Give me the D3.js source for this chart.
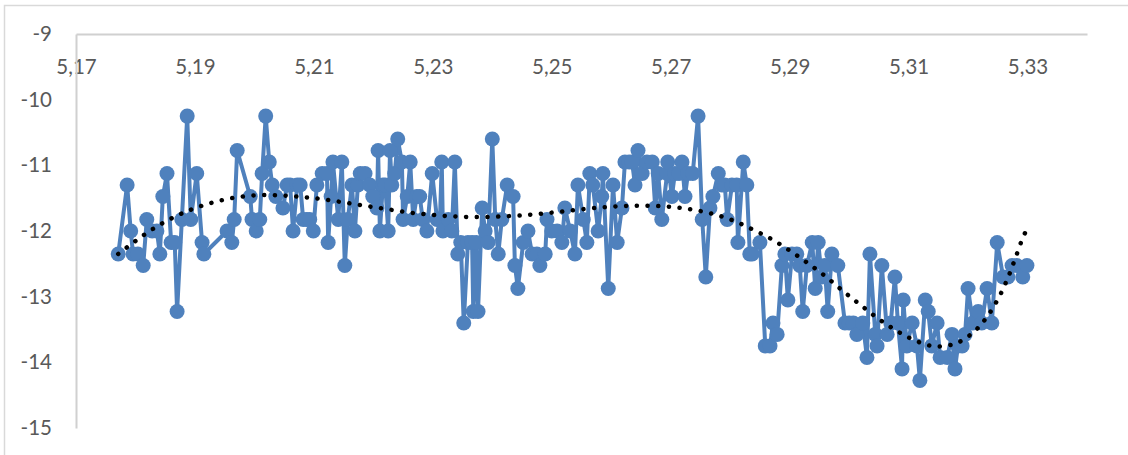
<!DOCTYPE html>
<html>
<head>
<meta charset="utf-8">
<script src="https://cdn.jsdelivr.net/npm/d3@7"></script>
<style>
  html, body { margin: 0; padding: 0; background: #fff; }
  svg { display: block; }
  .tick text { font-family: Lato, "Open Sans", sans-serif; font-size: 20.5px; fill: #595959; }
</style>
</head>
<body>
<svg id="chart" width="1128" height="455"></svg>
<script>
// ---- data ----
const xValues = [
  5.1771, 5.1786, 5.1792, 5.1796, 5.1804, 5.1813, 5.1819, 5.1828, 5.1836, 5.1841,
  5.1846, 5.1853, 5.1860, 5.1866, 5.1870, 5.1878, 5.1887, 5.1893, 5.1903, 5.1912,
  5.1915, 5.1954, 5.1962, 5.1966, 5.1971, 5.1993, 5.1996, 5.2003, 5.2009, 5.2013,
  5.2019, 5.2025, 5.2030, 5.2036, 5.2048, 5.2055, 5.2060, 5.2065, 5.2072, 5.2077,
  5.2082, 5.2088, 5.2093, 5.2099, 5.2105, 5.2114, 5.2122, 5.2124, 5.2129, 5.2132,
  5.2141, 5.2147, 5.2152, 5.2157, 5.2164, 5.2169, 5.2174, 5.2178, 5.2186, 5.2194,
  5.2199, 5.2206, 5.2208, 5.2211, 5.2216, 5.2220, 5.2225, 5.2228, 5.2231, 5.2236,
  5.2241, 5.2248, 5.2250, 5.2257, 5.2262, 5.2267, 5.2273, 5.2278, 5.2283, 5.2290,
  5.2299, 5.2307, 5.2312, 5.2315, 5.2317, 5.2326, 5.2332, 5.2337, 5.2342, 5.2347,
  5.2352, 5.2359, 5.2366, 5.2368, 5.2373, 5.2376, 5.2383, 5.2388, 5.2393, 5.2400,
  5.2405, 5.2410, 5.2416, 5.2425, 5.2435, 5.2438, 5.2443, 5.2452, 5.2460, 5.2467,
  5.2475, 5.2480, 5.2489, 5.2492, 5.2500, 5.2509, 5.2517, 5.2522, 5.2531, 5.2539,
  5.2544, 5.2553, 5.2559, 5.2564, 5.2569, 5.2578, 5.2584, 5.2586, 5.2595, 5.2603,
  5.2610, 5.2618, 5.2623, 5.2630, 5.2635, 5.2640, 5.2645, 5.2652, 5.2660, 5.2669,
  5.2674, 5.2679, 5.2685, 5.2694, 5.2695, 5.2702, 5.2707, 5.2714, 5.2719, 5.2724,
  5.2729, 5.2737, 5.2746, 5.2753, 5.2759, 5.2766, 5.2771, 5.2780, 5.2786, 5.2791,
  5.2795, 5.2803, 5.2811, 5.2813, 5.2822, 5.2828, 5.2833, 5.2837, 5.2850, 5.2859,
  5.2867, 5.2872, 5.2879, 5.2887, 5.2892, 5.2897, 5.2904, 5.2912, 5.2917, 5.2922,
  5.2929, 5.2938, 5.2943, 5.2948, 5.2954, 5.2959, 5.2964, 5.2971, 5.2981, 5.2993,
  5.3000, 5.3007, 5.3013, 5.3023, 5.3030, 5.3035, 5.3044, 5.3047, 5.3055, 5.3064,
  5.3070, 5.3077, 5.3082, 5.3089, 5.3091, 5.3097, 5.3106, 5.3114, 5.3119, 5.3128,
  5.3133, 5.3139, 5.3148, 5.3153, 5.3165, 5.3173, 5.3178, 5.3183, 5.3190, 5.3195,
  5.3200, 5.3208, 5.3217, 5.3223, 5.3232, 5.3240, 5.3249, 5.3259, 5.3267, 5.3274,
  5.3282, 5.3292, 5.3299
];
const yValues = [
  -12.35, -11.3, -12.0, -12.35, -12.35, -12.525, -11.825, -12.0, -12.0, -12.35,
  -11.475, -11.125, -12.175, -12.175, -13.225, -11.825, -10.25, -11.825, -11.125, -12.175,
  -12.35, -12.0, -12.175, -11.825, -10.775, -11.475, -11.825, -12.0, -11.825, -11.125,
  -10.25, -10.95, -11.3, -11.475, -11.65, -11.3, -11.3, -12.0, -11.3, -11.3,
  -11.825, -11.825, -11.825, -12.0, -11.3, -11.125, -11.125, -12.175, -11.475, -10.95,
  -11.825, -10.95, -12.525, -11.825, -11.3, -12.0, -11.3, -11.125, -11.125, -11.3,
  -11.475, -11.65, -10.775, -12.0, -11.3, -11.3, -12.0, -10.775, -11.3, -11.125,
  -10.6, -10.95, -11.825, -11.475, -10.95, -11.825, -11.475, -11.475, -11.825, -12.0,
  -11.125, -11.825, -11.825, -10.95, -12.0, -11.825, -12.0, -10.95, -12.35, -12.175,
  -13.4, -12.175, -12.175, -13.225, -12.175, -13.225, -11.65, -12.0, -12.175, -10.6,
  -11.825, -12.35, -11.825, -11.3, -11.475, -12.525, -12.875, -12.175, -12.0, -12.35,
  -12.35, -12.525, -12.35, -11.825, -12.0, -12.0, -12.175, -11.65, -12.0, -12.35,
  -11.3, -11.825, -12.175, -11.125, -11.3, -12.0, -11.475, -11.125, -12.875, -11.3,
  -12.175, -11.65, -10.95, -10.95, -10.95, -11.3, -10.775, -11.125, -10.95, -10.95,
  -11.65, -11.125, -11.825, -11.125, -10.95, -11.475, -11.125, -11.125, -10.95, -11.475,
  -11.125, -11.125, -10.25, -11.825, -12.7, -11.65, -11.475, -11.125, -11.3, -11.3,
  -11.825, -11.3, -11.3, -12.175, -10.95, -11.3, -12.35, -12.35, -12.175, -13.75,
  -13.75, -13.4, -13.575, -12.525, -12.35, -13.05, -12.35, -12.35, -12.525, -13.225,
  -12.525, -12.175, -12.875, -12.175, -12.7, -12.525, -13.225, -12.35, -12.525, -13.4,
  -13.4, -13.4, -13.575, -13.4, -13.925, -12.35, -13.575, -13.75, -12.525, -13.575,
  -13.4, -12.7, -13.4, -14.1, -13.05, -13.75, -13.4, -13.75, -14.275, -13.05,
  -13.225, -13.75, -13.4, -13.925, -13.925, -13.575, -14.1, -13.75, -13.75, -13.575,
  -12.875, -13.4, -13.225, -13.4, -12.875, -13.4, -12.175, -12.7, -12.7, -12.525,
  -12.525, -12.7, -12.525
];
// trendline
const trendX = [
  5.1771, 5.1800, 5.1830, 5.1863, 5.1896, 5.1931, 5.1966, 5.2003, 5.2040, 5.2076,
  5.2112, 5.2149, 5.2185, 5.2221, 5.2258, 5.2295, 5.2331, 5.2367, 5.2404, 5.2441,
  5.2477, 5.2514, 5.2551, 5.2587, 5.2623, 5.2660, 5.2697, 5.2733, 5.2769, 5.2804,
  5.2837, 5.2870, 5.2901, 5.2931, 5.2961, 5.2989, 5.3017, 5.3046, 5.3076, 5.3109,
  5.3144, 5.3180, 5.3211, 5.3234, 5.3253, 5.3268, 5.3281, 5.3294, 5.3299
];
const trendY = [
  -12.350, -12.152, -11.965, -11.797, -11.665, -11.563, -11.493, -11.456, -11.456, -11.478,
  -11.513, -11.563, -11.615, -11.665, -11.715, -11.752, -11.776, -11.787, -11.782, -11.767,
  -11.741, -11.706, -11.669, -11.639, -11.619, -11.615, -11.630, -11.669, -11.736, -11.837,
  -11.974, -12.126, -12.304, -12.492, -12.696, -12.909, -13.111, -13.314, -13.497, -13.660,
  -13.756, -13.710, -13.527, -13.279, -12.990, -12.690, -12.376, -12.061, -11.985
];
const xTicks = [5.17, 5.19, 5.21, 5.23, 5.25, 5.27, 5.29, 5.31, 5.33];
const yTicks = [-9, -10, -11, -12, -13, -14, -15];

// ---- chart ----
const svg = d3.select("#chart");
const blue = "#4F81BD";

svg.append("rect")
  .attr("x", 4.5).attr("y", 5.5)
  .attr("width", 1300).attr("height", 600)
  .attr("fill", "#fff").attr("stroke", "#D9D9D9").attr("stroke-width", 1.5);

const x = d3.scaleLinear().domain([5.17, 5.34]).range([76, 1087]);
const y = d3.scaleLinear().domain([-9, -15]).range([34, 428]);

const loc = d3.formatLocale({ decimal: ",", thousands: ".", grouping: [3], currency: ["", ""] });
const fmtX = loc.format(".2f");

const xAxis = svg.append("g")
  .attr("transform", `translate(0,${y(-9)})`)
  .call(d3.axisBottom(x).tickValues(xTicks).tickFormat(fmtX).tickSize(0).tickSizeOuter(0).tickPadding(25));
xAxis.select(".domain").attr("stroke", "#D0D0D0").attr("stroke-width", 2);

const yAxis = svg.append("g")
  .attr("transform", `translate(${x(5.17)},0)`)
  .call(d3.axisLeft(y).tickValues(yTicks).tickFormat(d3.format("d")).tickSize(0).tickSizeOuter(0).tickPadding(24));
yAxis.select(".domain").attr("stroke", "#D0D0D0").attr("stroke-width", 2);
yAxis.selectAll(".tick text").text(d => String(d).replace("\u2212", "-"));

const pts = xValues.map((v, i) => ({ x: v, y: yValues[i] }));

svg.append("path")
  .datum(pts)
  .attr("fill", "none")
  .attr("stroke", blue)
  .attr("stroke-width", 4)
  .attr("stroke-linejoin", "round")
  .attr("d", d3.line().x(d => x(d.x)).y(d => y(d.y)));

svg.append("g").selectAll("circle")
  .data(pts)
  .join("circle")
  .attr("cx", d => x(d.x))
  .attr("cy", d => y(d.y))
  .attr("r", 7.5)
  .attr("fill", blue);

const trend = trendX.map((v, i) => ({ x: v, y: trendY[i] }));
svg.append("path")
  .datum(trend)
  .attr("fill", "none")
  .attr("stroke", "#000")
  .attr("stroke-width", 4.5)
  .attr("stroke-linecap", "round")
  .attr("stroke-dasharray", "0.1 10.6")
  .attr("d", d3.line().curve(d3.curveCatmullRom).x(d => x(d.x)).y(d => y(d.y)));
</script>
</body>
</html>
